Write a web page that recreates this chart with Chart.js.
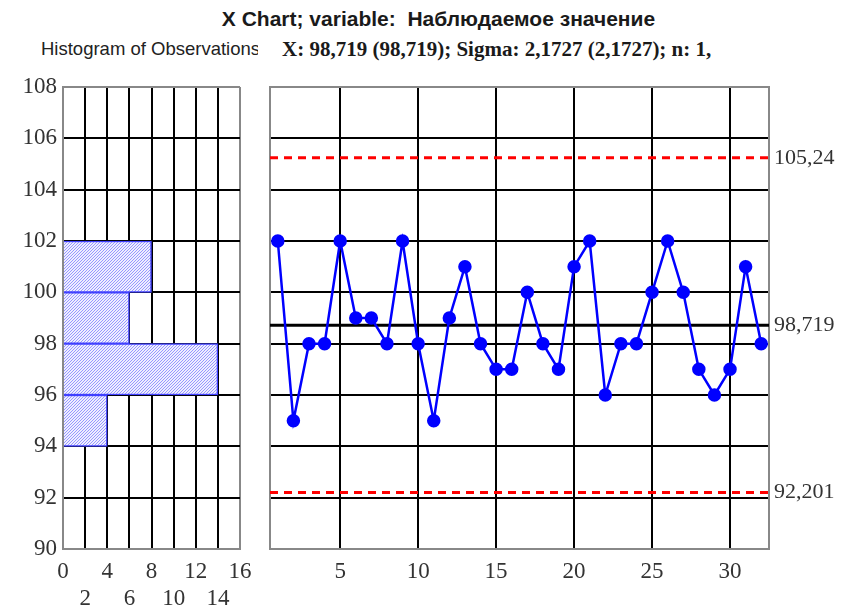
<!DOCTYPE html>
<html lang="ru">
<head>
<meta charset="UTF-8">
<title>X Chart</title>
<script src="https://cdn.jsdelivr.net/npm/chart.js"></script>
<style>
  body { margin: 0; background: #fff; width: 846px; height: 608px; position: relative; overflow: hidden; }
  canvas { position: absolute; left: 0; top: 0; }
  .title { position: absolute; left: 0; width: 877px; top: 7px; text-align: center; white-space: nowrap;
           font: bold 21px 'Liberation Sans', Arial, sans-serif; color: #1a1a1a; }
  .hist { position: absolute; left: 41px; top: 38px; width: 217px; overflow: hidden; white-space: nowrap;
          font: 18.5px 'Liberation Sans', Arial, sans-serif; color: #222; }
  .stats { position: absolute; left: 282px; top: 37px; white-space: nowrap;
           font: bold 21px 'Liberation Serif', 'Times New Roman', serif; color: #1a1a1a; }
</style>
</head>
<body>
<div class="title">X Chart; variable:&nbsp; Наблюдаемое значение</div>
<div class="hist">Histogram of Observations</div>
<div class="stats">X: 98,719 (98,719); Sigma: 2,1727 (2,1727); n: 1,</div>
<canvas id="histChart" width="846" height="608"></canvas>
<canvas id="xChart" width="846" height="608"></canvas>

<script>
// observations, sample 1..32
const sampleNo = [1, 2, 3, 4, 5, 6, 7, 8, 9, 10, 11, 12, 13, 14, 15, 16,
                  17, 18, 19, 20, 21, 22, 23, 24, 25, 26, 27, 28, 29, 30, 31, 32];
const observed = [102, 95, 98, 98, 102, 99, 99, 98, 102, 98, 95, 99, 101, 98, 97, 97,
                  100, 98, 97, 101, 102, 96, 98, 98, 100, 102, 100, 97, 96, 97, 101, 98];

// histogram of observations (bin centres, counts)
const histBins = [95, 97, 99, 101];
const histCounts = [4, 14, 6, 8];

// control limits
const UCL = 105.24;
const CL = 98.719;
const LCL = 92.201;
const X_MIN = 0.5, X_MAX = 32.5;
const Y_MIN = 90, Y_MAX = 108;

const tickFont = { family: "'Liberation Serif', 'Times New Roman', serif", size: 23, lineHeight: 1.15 };
const tickColor = '#333';
const edgeColor = '#888';

function gridColor(min, max) {
    return ctx => (ctx.tick && (ctx.tick.value === min || ctx.tick.value === max)) ? edgeColor : '#000';
}

// hatch pattern for histogram bars
function hatch() {
    const c = document.createElement('canvas');
    c.width = 3; c.height = 3;
    const g = c.getContext('2d');
    g.fillStyle = '#eeeeff';
    g.fillRect(0, 0, 3, 3);
    g.strokeStyle = '#8c8cff';
    g.lineWidth = 0.9;
    g.beginPath();
    g.moveTo(0, 3); g.lineTo(3, 0);
    g.moveTo(-1, 1); g.lineTo(1, -1);
    g.moveTo(2, 4); g.lineTo(4, 2);
    g.stroke();
    return g.createPattern(c, 'repeat');
}

new Chart(document.getElementById('histChart'), {
    type: 'bar',
    data: {
        datasets: [{
            data: histBins.map((b, i) => ({ y: b, x: histCounts[i] })),
            backgroundColor: hatch(),
            borderColor: '#4040ff',
            borderWidth: 1.5,
            barPercentage: 1,
            categoryPercentage: 1
        }]
    },
    options: {
        indexAxis: 'y',
        responsive: false,
        animation: false,
        layout: { padding: { left: 0, top: 87, right: 606, bottom: 0 } },
        plugins: { legend: { display: false }, tooltip: { enabled: false } },
        scales: {
            x: {
                type: 'linear', min: 0, max: 16,
                afterFit: s => { s.height = 59; },
                afterBuildTicks: s => { s.ticks = [0, 2, 4, 6, 8, 10, 12, 14, 16].map(v => ({ value: v })); },
                grid: { color: gridColor(0, 16), lineWidth: 2, drawTicks: false },
                border: { color: edgeColor, width: 2 },
                ticks: {
                    font: { ...tickFont, lineHeight: 1.2 }, color: tickColor, padding: 9,
                    maxRotation: 0, autoSkip: false,
                    callback: v => (v % 4 === 0 ? String(v) : ['', String(v)])
                }
            },
            y: {
                type: 'linear', min: Y_MIN, max: Y_MAX,
                offset: false,
                afterFit: s => { s.width = 63; },
                grid: { color: gridColor(Y_MIN, Y_MAX), lineWidth: 2, drawTicks: false, offset: false },
                border: { color: edgeColor, width: 2 },
                ticks: { stepSize: 2, font: tickFont, color: tickColor, padding: 6 }
            }
        }
    }
});

const limitLine = (v, color, dash) => ({
    data: [{ x: X_MIN, y: v }, { x: X_MAX, y: v }],
    borderColor: color,
    borderWidth: 3,
    borderDash: dash,
    pointRadius: 0,
    showLine: true
});

new Chart(document.getElementById('xChart'), {
    type: 'scatter',
    data: {
        datasets: [
            {
                data: sampleNo.map((n, i) => ({ x: n, y: observed[i] })),
                borderColor: '#0000ff',
                backgroundColor: '#0000ff',
                borderWidth: 2.5,
                pointRadius: 5.5,
                showLine: true
            },
            limitLine(UCL, '#ff0000', [8, 6]),
            limitLine(LCL, '#ff0000', [8, 6]),
            limitLine(CL, '#000000', [])
        ]
    },
    options: {
        responsive: false,
        animation: false,
        layout: { padding: { left: 260, top: 87, right: 0, bottom: 0 } },
        plugins: { legend: { display: false }, tooltip: { enabled: false } },
        scales: {
            x: {
                type: 'linear', min: X_MIN, max: X_MAX,
                afterFit: s => { s.height = 59; },
                afterBuildTicks: s => { s.ticks = [5, 10, 15, 20, 25, 30].map(v => ({ value: v })); },
                grid: { color: '#000', lineWidth: 2, drawTicks: false },
                border: { color: edgeColor, width: 2 },
                ticks: { font: tickFont, color: tickColor, padding: 10, maxRotation: 0, autoSkip: false }
            },
            y: {
                type: 'linear', min: Y_MIN, max: Y_MAX,
                afterFit: s => { s.width = 10; },
                grid: { color: gridColor(Y_MIN, Y_MAX), lineWidth: 2, drawTicks: false },
                border: { color: edgeColor, width: 2 },
                ticks: { stepSize: 2, display: false }
            },
            yLimits: {
                type: 'linear', position: 'right', min: Y_MIN, max: Y_MAX,
                afterFit: s => { s.width = 77; },
                afterBuildTicks: s => { s.ticks = [LCL, CL, UCL].map(v => ({ value: v })); },
                grid: { display: false, drawTicks: false },
                border: { color: edgeColor, width: 2 },
                ticks: {
                    font: { ...tickFont, size: 22 }, color: tickColor, padding: 5,
                    callback: v => String(v).replace('.', ',')
                }
            }
        }
    }
});
</script>
</body>
</html>
